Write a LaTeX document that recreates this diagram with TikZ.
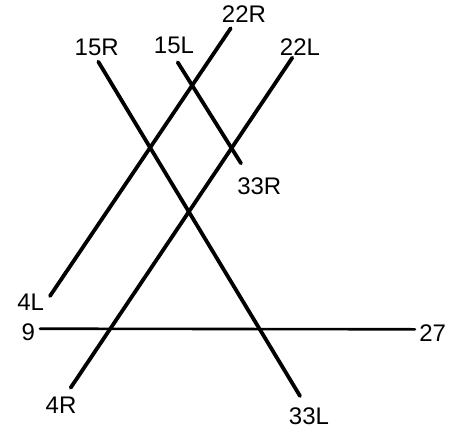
\documentclass[tikz,border=0pt]{standalone}
\usepackage{fontspec}
\setmainfont{Liberation Sans}
\begin{document}
\begin{tikzpicture}[x=1pt,y=-1pt,
  rwy/.style={line width=3.8pt,line cap=round},
  rwyh/.style={line width=2.6pt,line cap=round},
  lbl/.style={inner sep=0pt,font=\fontsize{24}{28}\selectfont}]
\useasboundingbox (0,0) rectangle (453,432);
% runway end points
\coordinate (a22R) at (230.7,28.3);
\coordinate (a4L) at (50,296);
\coordinate (a15R) at (98.3,61.7);
\coordinate (a33L) at (300,396);
\coordinate (a15L) at (177.7,62.3);
\coordinate (a33R) at (241,163.3);
\coordinate (a22L) at (292.3,57.7);
\coordinate (a4R) at (70.7,387.7);
\coordinate (a9) at (40,328.7);
\coordinate (a27) at (415,329.3);
% runways
\draw[rwy] (a22R) -- (a4L);
\draw[rwy] (a15R) -- (a33L);
\draw[rwy] (a15L) -- (a33R);
\draw[rwy] (a22L) -- (a4R);
\draw[rwyh] (a9) -- (a27);
% labels
\node[lbl] (t22R) at (244,14) {22R};
\node[lbl] (t15R) at (96.7,47.3) {15R};
\node[lbl] (t15L) at (174,45.7) {15L};
\node[lbl] (t22L) at (300,46.7) {22L};
\node[lbl] (t33R) at (259.3,186) {33R};
\node[lbl] (t4L) at (30.7,302) {4L};
\node[lbl] (t9) at (28.3,332.7) {9};
\node[lbl] (t27) at (432.7,333.3) {27};
\node[lbl] (t4R) at (61,405.3) {4R};
\node[lbl] (t33L) at (309,416) {33L};
\end{tikzpicture}
\end{document}
